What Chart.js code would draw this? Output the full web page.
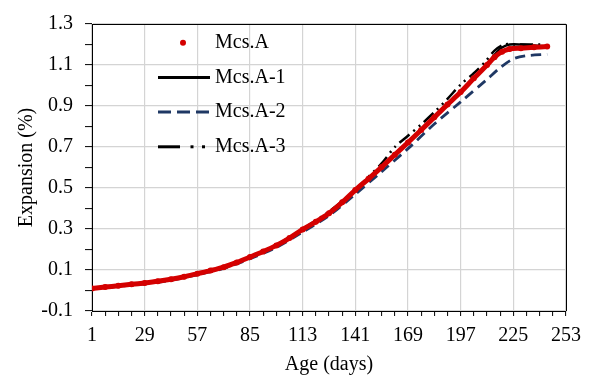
<!DOCTYPE html>
<html><head><meta charset="utf-8">
<script src="https://cdn.jsdelivr.net/npm/chart.js@4.4.1/dist/chart.umd.min.js"></script>
<style>html,body{margin:0;padding:0;background:#fff}</style>
</head><body>
<canvas id="c" width="591" height="380" style="width:591px;height:380px;display:block"></canvas>
<script>
const seriesNames = ['Mcs.A', 'Mcs.A-1', 'Mcs.A-2', 'Mcs.A-3'];

const daysA   = [1,8,15,22,29,36,43,50,57,64,71,78,85,92,99,106,113,120,127,134,141,148,155,162,169,176,183,190,197,204,211,215,219,223,229,236,243];
const valuesA = [0.010,0.017,0.023,0.030,0.037,0.045,0.055,0.067,0.082,0.097,0.114,0.137,0.163,0.190,0.220,0.256,0.298,0.335,0.377,0.430,0.490,0.545,0.602,0.662,0.722,0.783,0.845,0.907,0.968,1.035,1.100,1.138,1.165,1.178,1.182,1.186,1.190];

const daysA1   = [1,15,29,43,57,71,85,99,113,127,141,155,169,183,197,211,215,219,223,229,236,243];
const valuesA1 = [0.010,0.023,0.037,0.055,0.082,0.114,0.164,0.221,0.299,0.378,0.492,0.604,0.724,0.846,0.970,1.102,1.150,1.185,1.200,1.200,1.195,1.190];

const daysA2   = [1,15,29,43,57,71,85,99,113,127,141,155,169,183,197,211,218,225,232,243];
const valuesA2 = [0.008,0.020,0.033,0.050,0.077,0.108,0.155,0.210,0.285,0.365,0.470,0.580,0.692,0.812,0.920,1.030,1.087,1.130,1.145,1.152];

const daysA3   = [1,15,29,43,57,71,85,99,113,127,134,141,148,155,162,169,176,183,190,197,204,210,215,220,226,232,240];
const valuesA3 = [0.010,0.023,0.037,0.056,0.083,0.115,0.165,0.222,0.300,0.385,0.435,0.490,0.555,0.620,0.700,0.755,0.810,0.870,0.935,1.005,1.060,1.115,1.170,1.200,1.200,1.200,1.200];

const xTickLabels = [1,29,57,85,113,141,169,197,225,253];
const yTickLabels = [-0.1,0.1,0.3,0.5,0.7,0.9,1.1,1.3];

const RED = '#D40000', BLUE = '#1F3864', BLACK = '#000000';
const FONT = 'Liberation Serif';

function pts(d, v){ return d.map((x,i)=>({x:x, y:v[i]})); }

// minor ticks: x every 7 days, y every 0.1
const xTicks = [];
for (let i=0;i<xTickLabels.length;i++){
  xTicks.push(xTickLabels[i]);
  if (i<xTickLabels.length-1){ const s=(xTickLabels[i+1]-xTickLabels[i])/4; for(let k=1;k<4;k++) xTicks.push(xTickLabels[i]+k*s); }
}
const yTicks = [];
for (let i=0;i<yTickLabels.length;i++){
  yTicks.push(yTickLabels[i]);
  if (i<yTickLabels.length-1) yTicks.push(Math.round((yTickLabels[i]+yTickLabels[i+1])*50)/100);
}
const isMajorX = v => xTickLabels.includes(Math.round(v));
const isMajorY = v => yTickLabels.some(t=>Math.abs(t-v)<1e-6);

const framePlugin = {
  id:'frame',
  afterDatasetsDraw(chart){
    const {ctx, chartArea:a} = chart;
    ctx.save();
    ctx.strokeStyle='#000'; ctx.lineWidth=1;
    ctx.beginPath();
    ctx.moveTo(a.left, Math.round(a.top)+0.5);
    ctx.lineTo(Math.round(a.right)+0.5, Math.round(a.top)+0.5);
    ctx.lineTo(Math.round(a.right)+0.5, a.bottom);
    ctx.stroke();
    ctx.restore();
  }
};

const legendPlugin = {
  id:'innerLegend',
  afterDraw(chart){
    const ctx = chart.ctx;
    const x0 = 158, x1 = 210, tx = 215, y0 = 42.7, dy = 34.7;
    ctx.save();
    ctx.font = '20px "' + FONT + '"';
    ctx.textBaseline = 'middle';
    ctx.fillStyle = '#000';
    seriesNames.forEach((name,i)=>{
      const y = y0 + i*dy;
      ctx.save();
      if (i===0){
        ctx.fillStyle = RED; ctx.beginPath(); ctx.arc(183, y, 3, 0, Math.PI*2); ctx.fill();
      } else if (i===1){
        ctx.strokeStyle = BLACK; ctx.lineWidth = 3; ctx.beginPath(); ctx.moveTo(x0,y); ctx.lineTo(x1,y); ctx.stroke();
      } else if (i===2){
        ctx.strokeStyle = BLUE; ctx.lineWidth = 3; ctx.setLineDash([13,6]); ctx.beginPath(); ctx.moveTo(x0,y); ctx.lineTo(x1,y); ctx.stroke();
      } else {
        ctx.strokeStyle = BLACK; ctx.lineWidth = 3; ctx.beginPath(); ctx.moveTo(x0,y); ctx.lineTo(180,y); ctx.stroke();
        ctx.fillStyle = BLACK; ctx.fillRect(190.5,y-1.5,3,3); ctx.fillRect(202,y-1.5,3,3);
      }
      ctx.restore();
      ctx.fillText(name, tx, y);
    });
    ctx.restore();
  }
};

new Chart(document.getElementById('c'), {
  type:'line',
  data:{
    datasets:[
      { label:seriesNames[0], data:pts(daysA,valuesA), borderColor:RED, backgroundColor:RED, borderWidth:5, pointRadius:3, pointBorderWidth:0, pointBackgroundColor:RED, tension:0.3, fill:false },
      { label:seriesNames[1], data:pts(daysA1,valuesA1), borderColor:BLACK, borderWidth:2.5, pointRadius:0, tension:0.3, fill:false },
      { label:seriesNames[2], data:pts(daysA2,valuesA2), borderColor:BLUE, borderWidth:2.8, borderDash:[10,6], pointRadius:0, tension:0.3, fill:false },
      { label:seriesNames[3], data:pts(daysA3,valuesA3), borderColor:BLACK, borderWidth:2.5, borderDash:[13,5,2,5,2,5], pointRadius:0, tension:0.3, fill:false }
    ]
  },
  options:{
    responsive:false, animation:false, devicePixelRatio:1,
    layout:{ padding:{ top:15, right:25, left:0, bottom:0 } },
    plugins:{ legend:{display:false}, tooltip:{enabled:false} },
    scales:{
      x:{
        type:'linear', min:1, max:253,
        afterBuildTicks: s => { s.ticks = xTicks.map(v=>({value:v})); },
        afterFit: s => { s.height = 69; },
        ticks:{ autoSkip:false, maxRotation:0, padding:8, color:'#000', font:{family:FONT, size:20},
          callback: v => isMajorX(v) ? String(Math.round(v)) : '' },
        grid:{ color: c => (c.tick && isMajorX(c.tick.value)) ? '#d4d4d4' : 'rgba(0,0,0,0)', lineWidth:1.2, tickColor:'#000', tickLength:5, tickWidth:1 },
        border:{ color:'#000', width:1 },
        title:{ display:true, text:'Age (days)', color:'#000', font:{family:FONT, size:20}, padding:{top:0,bottom:3} }
      },
      y:{
        type:'linear', min:-0.1, max:1.3,
        afterBuildTicks: s => { s.ticks = yTicks.map(v=>({value:v})); },
        afterFit: s => { s.width = 92; },
        ticks:{ autoSkip:false, padding:12, color:'#000', font:{family:FONT, size:20},
          callback: v => isMajorY(v) ? Number(v).toFixed(1) : '' },
        grid:{ color: c => (c.tick && isMajorY(c.tick.value)) ? '#d4d4d4' : 'rgba(0,0,0,0)', lineWidth:1.2, tickColor:'#000', tickLength:7, tickWidth:1 },
        border:{ color:'#000', width:1 },
        title:{ display:true, text:'Expansion (%)', color:'#000', font:{family:FONT, size:20}, padding:{top:15,bottom:0} }
      }
    }
  },
  plugins:[framePlugin, legendPlugin]
});
</script>
</body></html>
